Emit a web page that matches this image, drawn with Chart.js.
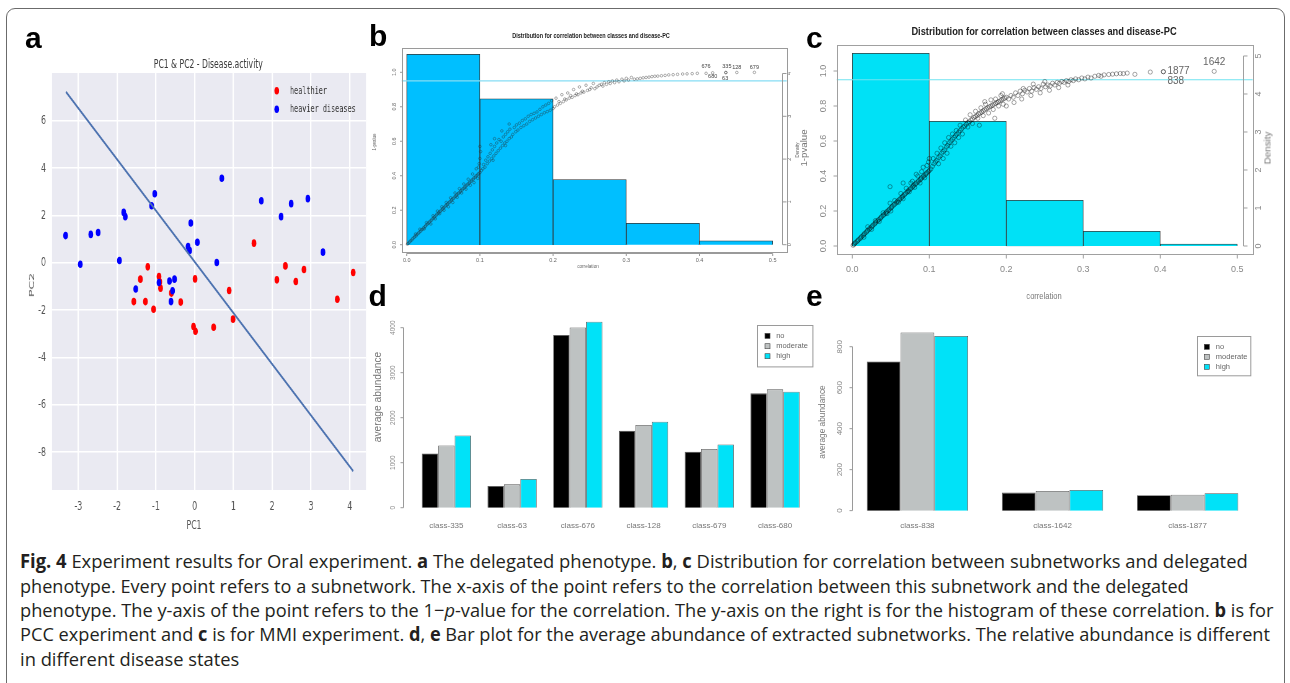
<!DOCTYPE html>
<html><head><meta charset="utf-8">
<script src="https://cdn.jsdelivr.net/npm/chart.js@4.4.1/dist/chart.umd.min.js"></script>
<style>
html,body{margin:0;padding:0;background:#fff;}
body{width:1290px;height:683px;position:relative;overflow:hidden;}
#frame{position:absolute;left:6px;top:8px;width:1279px;height:720px;border:1px solid #6b6b6b;border-radius:9px;box-sizing:border-box;}
.panel{position:absolute;transform-origin:0 0;}
canvas{display:block;}
.t{position:absolute;white-space:nowrap;line-height:1;}
.letter{position:absolute;font-family:'Liberation Sans',Arial,sans-serif;font-weight:bold;font-size:30px;line-height:1;color:#000;}
.cap{position:absolute;left:20px;white-space:nowrap;font-family:'Open Sans','Noto Sans',sans-serif;font-size:19px;line-height:24px;color:#231f20;transform-origin:0 50%;}
.cap b{font-weight:700;}
</style></head><body>
<div id="frame"></div>
<div class="panel" id="pa" style="left:0px;top:40px;transform:scaleX(0.62)"><canvas id="ca" width="597" height="500" style="width:597px;height:500px"></canvas></div>
<div class="panel" id="pb" style="left:370px;top:25px"><canvas id="cb" width="430" height="265" style="width:430px;height:265px"></canvas></div>
<div class="panel" id="pc" style="left:790px;top:25px"><canvas id="cc" width="495" height="265" style="width:495px;height:265px"></canvas></div>
<div class="panel" id="pd" style="left:370px;top:290px"><canvas id="cd" width="445" height="250" style="width:445px;height:250px"></canvas></div>
<div class="panel" id="pe" style="left:815px;top:290px"><canvas id="ce" width="470" height="250" style="width:470px;height:250px"></canvas></div>

<div class="letter" style="left:25px;top:22.5px">a</div>
<div class="letter" style="left:369px;top:21px">b</div>
<div class="letter" style="left:806px;top:22.5px">c</div>
<div class="letter" style="left:368.5px;top:281px">d</div>
<div class="letter" style="left:806px;top:281px">e</div>

<div class="cap" data-w="1228" style="top:549px"><b>Fig. 4</b> Experiment results for Oral experiment. <b>a</b> The delegated phenotype. <b>b</b>, <b>c</b> Distribution for correlation between subnetworks and delegated</div>
<div class="cap" data-w="1169" style="top:573.5px">phenotype. Every point refers to a subnetwork. The x-axis of the point refers to the correlation between this subnetwork and the delegated</div>
<div class="cap" data-w="1253" style="top:598px">phenotype. The y-axis of the point refers to the 1−<i>p</i>-value for the correlation. The y-axis on the right is for the histogram of these correlation. <b>b</b> is for</div>
<div class="cap" data-w="1250" style="top:622.3px">PCC experiment and <b>c</b> is for MMI experiment. <b>d</b>, <b>e</b> Bar plot for the average abundance of extracted subnetworks. The relative abundance is different</div>
<div class="cap" data-w="219" style="top:646.6px">in different disease states</div>

<script>
// ================= DATA =================
// ---- panel a : PC1 & PC2 scatter ----
const aSeries = ['healthier', 'heavier diseases'];
const aTicksX = [-3, -2, -1, 0, 1, 2, 3, 4];
const aTicksY = [-8, -6, -4, -2, 0, 2, 4, 6];
const aHealthier = [[1.53,0.83],[-1.21,-0.17],[2.34,-0.13],[2.82,-0.28],[4.09,-0.41],[-1.40,-0.69],[-0.92,-0.58],[-0.88,-1.07],[-0.60,-1.28],[-1.57,-1.64],[-1.27,-1.64],[-1.06,-1.96],[-0.36,-1.66],[0.01,-0.68],[0.89,-1.17],[0.99,-2.38],[-0.03,-2.69],[0.02,-2.89],[0.49,-2.72],[2.12,-0.72],[2.61,-0.79],[3.68,-1.54],[-0.90,-0.80]];
const aHeavier = [[-3.33,1.15],[-2.95,-0.06],[-2.68,1.20],[-2.49,1.28],[-1.94,0.10],[-1.83,2.13],[-1.79,1.95],[-1.11,2.41],[-1.03,2.92],[-0.10,1.68],[-0.17,0.69],[-0.13,0.52],[0.07,0.87],[0.57,0.01],[0.70,3.57],[1.72,2.62],[2.23,1.95],[2.49,2.50],[2.92,2.71],[3.31,0.45],[-1.52,-1.11],[-0.92,-0.83],[-0.65,-0.77],[-0.52,-0.69],[-0.57,-1.18],[-0.61,-1.64]];
const aLineX = [-3.32, 4.09];
const aLineY = [7.22, -8.80];

// ---- shared correlation axes (b, c) ----
const corrTicks = [0, 0.1, 0.2, 0.3, 0.4, 0.5];
const corrTickLabels = ['0.0', '0.1', '0.2', '0.3', '0.4', '0.5'];
const pTicks = [0, 0.2, 0.4, 0.6, 0.8, 1.0];
const pTickLabels = ['0.0', '0.2', '0.4', '0.6', '0.8', '1.0'];
const binMid = [0.05, 0.15, 0.25, 0.35, 0.45];

// ---- panel b (PCC) ----
const bDensity = [4.45, 3.41, 1.52, 0.50, 0.09];
const bDensTicks = [0, 1, 2, 3, 4];
const bThreshold = 0.95;
const bPoints = [[0.001,0.003],[0.002,0.008],[0.004,0.015],[0.005,0.022],[0.007,0.027],[0.008,0.035],[0.01,0.041],[0.011,0.047],[0.013,0.052],[0.014,0.06],[0.016,0.066],[0.017,0.072],[0.019,0.078],[0.02,0.086],[0.022,0.09],[0.023,0.098],[0.025,0.105],[0.026,0.11],[0.028,0.118],[0.029,0.124],[0.031,0.13],[0.032,0.137],[0.034,0.142],[0.035,0.15],[0.037,0.155],[0.038,0.162],[0.04,0.168],[0.041,0.176],[0.043,0.181],[0.044,0.188],[0.046,0.193],[0.047,0.2],[0.049,0.206],[0.05,0.213],[0.052,0.219],[0.053,0.226],[0.055,0.231],[0.056,0.238],[0.058,0.244],[0.059,0.25],[0.061,0.257],[0.062,0.263],[0.064,0.268],[0.065,0.276],[0.067,0.281],[0.068,0.288],[0.07,0.294],[0.071,0.3],[0.073,0.306],[0.074,0.313],[0.076,0.318],[0.077,0.326],[0.079,0.331],[0.08,0.338],[0.082,0.343],[0.083,0.35],[0.085,0.356],[0.086,0.362],[0.088,0.368],[0.089,0.375],[0.091,0.38],[0.092,0.388],[0.094,0.393],[0.095,0.4],[0.097,0.405],[0.098,0.412],[0.1,0.418],
[0.012,0.062],[0.018,0.09],[0.024,0.092],[0.027,0.128],[0.033,0.12],[0.036,0.168],[0.039,0.15],[0.042,0.195],[0.045,0.18],[0.048,0.22],[0.051,0.2],[0.054,0.245],[0.057,0.22],[0.06,0.272],[0.063,0.245],[0.066,0.3],[0.069,0.275],[0.072,0.325],[0.075,0.3],[0.078,0.352],[0.081,0.322],[0.084,0.38],[0.087,0.345],[0.09,0.41],[0.092,0.36],[0.095,0.44],[0.097,0.385],[0.099,0.47],[0.1,0.5],[0.101,0.54],[0.1,0.57],[0.098,0.45],
[0.102,0.43],[0.104,0.44],[0.105,0.465],[0.107,0.45],[0.108,0.49],[0.11,0.47],[0.111,0.51],[0.113,0.485],[0.114,0.53],[0.116,0.5],[0.117,0.55],[0.119,0.515],[0.12,0.57],[0.122,0.53],[0.123,0.59],[0.125,0.545],[0.126,0.61],[0.128,0.56],[0.129,0.6],[0.131,0.575],[0.132,0.625],[0.134,0.59],[0.135,0.64],[0.137,0.6],[0.138,0.655],[0.14,0.615],[0.141,0.67],[0.143,0.625],[0.145,0.64],[0.147,0.68],[0.149,0.655],[0.15,0.695],[0.152,0.665],[0.154,0.705],[0.156,0.68],[0.158,0.72],[0.16,0.69],[0.162,0.73],[0.164,0.7],[0.166,0.745],[0.168,0.715],[0.17,0.755],[0.172,0.725],[0.174,0.762],[0.176,0.735],[0.178,0.77],[0.18,0.745],[0.182,0.785],[0.184,0.755],[0.186,0.8],[0.188,0.765],[0.19,0.81],[0.192,0.772],[0.194,0.82],[0.196,0.78],[0.198,0.835],[0.2,0.79],[0.12,0.615],[0.13,0.66],[0.115,0.58],[0.14,0.7],[0.118,0.49],[0.135,0.575],
[0.202,0.8],[0.204,0.85],[0.206,0.81],[0.208,0.83],[0.21,0.82],[0.212,0.87],[0.214,0.83],[0.216,0.845],[0.218,0.84],[0.22,0.88],[0.222,0.85],[0.224,0.865],[0.226,0.855],[0.228,0.9],[0.23,0.865],[0.232,0.875],[0.234,0.87],[0.236,0.915],[0.238,0.88],[0.24,0.89],[0.242,0.885],[0.245,0.925],[0.247,0.895],[0.25,0.9],[0.252,0.91],[0.255,0.935],[0.257,0.905],[0.26,0.915],[0.263,0.925],[0.266,0.93],[0.268,0.92],[0.27,0.94],[0.273,0.93],[0.276,0.945],[0.278,0.935],[0.281,0.95],[0.284,0.94],[0.287,0.955],[0.29,0.945],[0.294,0.96],[0.297,0.95],[0.3,0.965],
[0.303,0.955],[0.307,0.97],[0.311,0.96],[0.315,0.962],[0.319,0.965],[0.323,0.968],[0.327,0.97],[0.331,0.972],[0.335,0.975],[0.339,0.977],[0.343,0.978],[0.348,0.98],[0.353,0.982],[0.358,0.985],[0.364,0.986],[0.37,0.988],[0.377,0.99],[0.383,0.991],[0.39,0.992],[0.397,0.994]];
const bLabeled = [{name:'676',x:0.409,y:0.994},{name:'680',x:0.418,y:0.997},{name:'335',x:0.436,y:0.999},{name:'63',x:0.436,y:0.998},{name:'128',x:0.451,y:0.999},{name:'679',x:0.475,y:0.9995}];

// ---- panel c (MMI) ----
const cDensity = [5.07, 3.28, 1.20, 0.386, 0.05];
const cDensTicks = [0, 1, 2, 3, 4, 5];
const cThreshold = 0.95;
const cPoints = [[0.001,0.004],[0.002,0.009],[0.003,0.015],[0.004,0.019],[0.006,0.025],[0.007,0.031],[0.008,0.036],[0.01,0.042],[0.011,0.048],[0.012,0.054],[0.014,0.06],[0.015,0.066],[0.016,0.072],[0.018,0.078],[0.019,0.084],[0.02,0.09],[0.022,0.096],[0.023,0.102],[0.025,0.108],[0.026,0.114],[0.027,0.12],[0.029,0.126],[0.03,0.132],[0.031,0.138],[0.033,0.144],[0.034,0.15],[0.036,0.156],[0.037,0.162],[0.038,0.168],[0.04,0.174],[0.041,0.18],[0.043,0.186],[0.044,0.192],[0.045,0.198],[0.047,0.204],[0.048,0.21],[0.05,0.216],[0.051,0.222],[0.052,0.228],[0.054,0.234],[0.055,0.24],[0.057,0.246],[0.058,0.252],[0.059,0.258],[0.061,0.264],[0.062,0.27],[0.064,0.276],[0.065,0.282],[0.066,0.288],[0.068,0.294],[0.069,0.3],[0.071,0.306],[0.072,0.312],[0.073,0.318],[0.075,0.324],[0.076,0.33],[0.078,0.336],[0.079,0.342],[0.08,0.348],[0.082,0.354],[0.083,0.36],[0.085,0.366],[0.086,0.372],[0.088,0.378],[0.089,0.384],[0.09,0.39],[0.092,0.396],[0.093,0.402],[0.095,0.408],[0.096,0.414],[0.097,0.42],[0.099,0.426],[0.1,0.432],
[0.015,0.05],[0.02,0.11],[0.025,0.095],[0.03,0.145],[0.035,0.14],[0.04,0.19],[0.045,0.185],[0.049,0.245],[0.05,0.2],[0.055,0.26],[0.06,0.25],[0.063,0.3],[0.066,0.27],[0.07,0.33],[0.074,0.31],[0.078,0.37],[0.081,0.335],[0.085,0.4],[0.088,0.36],[0.049,0.339],[0.066,0.36],[0.09,0.425],[0.094,0.39],[0.097,0.46],[0.099,0.48],[0.1,0.5],[0.092,0.45],[0.083,0.41],[0.076,0.36],
[0.102,0.44],[0.104,0.455],[0.106,0.47],[0.108,0.48],[0.11,0.49],[0.112,0.505],[0.114,0.515],[0.116,0.53],[0.118,0.54],[0.12,0.55],[0.122,0.565],[0.124,0.575],[0.126,0.59],[0.128,0.6],[0.13,0.61],[0.132,0.62],[0.134,0.63],[0.136,0.64],[0.138,0.65],[0.14,0.66],[0.142,0.67],[0.144,0.68],[0.146,0.685],[0.148,0.695],[0.15,0.705],[0.152,0.71],[0.154,0.72],[0.156,0.725],[0.158,0.735],[0.16,0.74],[0.162,0.745],[0.164,0.755],[0.166,0.76],[0.168,0.765],[0.17,0.772],[0.172,0.778],[0.174,0.784],[0.176,0.79],[0.178,0.795],[0.18,0.8],[0.182,0.805],[0.184,0.81],[0.186,0.815],[0.188,0.82],[0.19,0.825],[0.192,0.83],[0.194,0.835],[0.196,0.84],[0.198,0.845],[0.2,0.85],
[0.105,0.5],[0.11,0.53],[0.112,0.47],[0.115,0.56],[0.118,0.5],[0.12,0.59],[0.123,0.53],[0.125,0.62],[0.128,0.57],[0.13,0.64],[0.133,0.59],[0.135,0.66],[0.138,0.62],[0.14,0.69],[0.143,0.64],[0.147,0.72],[0.15,0.68],[0.153,0.75],[0.156,0.7],[0.16,0.77],[0.163,0.73],[0.167,0.79],[0.17,0.745],[0.173,0.81],[0.177,0.76],[0.18,0.835],[0.183,0.78],[0.186,0.84],[0.19,0.8],[0.193,0.86],[0.196,0.81],[0.172,0.825],[0.165,0.69],[0.185,0.73],[0.2,0.8],[0.195,0.87],
[0.203,0.84],[0.206,0.86],[0.209,0.85],[0.212,0.875],[0.215,0.86],[0.218,0.885],[0.221,0.87],[0.224,0.89],[0.227,0.88],[0.23,0.9],[0.233,0.885],[0.236,0.905],[0.239,0.895],[0.242,0.91],[0.245,0.9],[0.248,0.925],[0.251,0.91],[0.254,0.92],[0.257,0.915],[0.26,0.93],[0.263,0.92],[0.266,0.935],[0.269,0.93],[0.272,0.94],[0.275,0.935],[0.278,0.945],[0.281,0.94],[0.284,0.95],[0.287,0.945],[0.29,0.955],[0.294,0.95],[0.298,0.96],[0.21,0.82],[0.22,0.84],[0.232,0.86],[0.244,0.875],[0.256,0.89],[0.268,0.905],[0.25,0.94],[0.235,0.925],[0.222,0.9],[0.28,0.92],
[0.302,0.955],[0.306,0.965],[0.31,0.96],[0.315,0.97],[0.32,0.975],[0.323,0.97],[0.327,0.978],[0.333,0.98],[0.338,0.982],[0.343,0.984],[0.348,0.986],[0.352,0.985],[0.357,0.988],[0.367,0.981],[0.387,0.994]];
const cLabeled = [{name:'1642',x:0.470,y:0.998},{name:'1877',x:0.404,y:0.996},{name:'838',x:0.404,y:0.996}];

// ---- panel d, e : average abundance bars ----
const barSeries = ['no', 'moderate', 'high'];
const dCats = ['class-335', 'class-63', 'class-676', 'class-128', 'class-679', 'class-680'];
const dNo = [1207, 481, 3837, 1711, 1244, 2541];
const dModerate = [1385, 519, 4007, 1837, 1304, 2630];
const dHigh = [1607, 637, 4133, 1911, 1407, 2578];
const dTicks = [0, 1000, 2000, 3000, 4000];
const dTickLabels = ['0', '1000', '2000', '3000', '4000'];
const eCats = ['class-838', 'class-1642', 'class-1877'];
const eNo = [728, 88, 75];
const eModerate = [870, 96, 78];
const eHigh = [852, 101, 85];
const eTicks = [0, 200, 400, 600, 800];
const eTickLabels = ['0', '200', '400', '600', '800'];

// ================= PLUGINS =================
const bgFill = { id:'bgFill', beforeDraw(ch, a, o){ if(!o.color) return; const c=ch.ctx, r=ch.chartArea; c.save(); c.fillStyle=o.color; c.fillRect(r.left, r.top, r.right-r.left, r.bottom-r.top); c.restore(); } };
const boxFrame = { id:'boxFrame', afterDraw(ch, a, o){ if(!o.color) return; const c=ch.ctx, r=ch.chartArea; c.save(); c.strokeStyle=o.color; c.lineWidth=1; c.strokeRect(Math.round(r.left)+0.5, Math.round(r.top)+0.5, Math.round(r.right-r.left), Math.round(r.bottom-r.top)); c.restore(); } };
const rAxes = { id:'rAxes', afterDraw(ch, a, o){
  if(!o.axes) return; const c=ch.ctx, r=ch.chartArea; c.save(); c.strokeStyle=o.color||'#999'; c.lineWidth=1;
  o.axes.forEach(ax=>{ const sc=ch.scales[ax.id]; const px=sc.ticks.map(t=>sc.getPixelForValue(t.value)); c.beginPath();
    if(ax.side==='bottom'){ const y0=Math.round(r.bottom+(ax.offset||0))+0.5; c.moveTo(px[0],y0); c.lineTo(px[px.length-1],y0); px.forEach(p=>{c.moveTo(p,y0); c.lineTo(p,y0+ax.len);}); }
    else { const x0=Math.round((ax.side==='left'?r.left:r.right)+(ax.offset||0))+0.5; const d=ax.side==='left'?-ax.len:ax.len; c.moveTo(x0,px[0]); c.lineTo(x0,px[px.length-1]); px.forEach(p=>{c.moveTo(x0,p); c.lineTo(x0+d,p);}); }
    c.stroke(); });
  c.restore(); } };
const threshold = { id:'threshold', afterDatasetDraw(ch, a, o){ if(o.value===undefined || a.index!==o.after) return; const c=ch.ctx, r=ch.chartArea; const y=ch.scales.y.getPixelForValue(o.value); c.save(); c.strokeStyle=o.color; c.lineWidth=o.width; c.beginPath(); c.moveTo(r.left,y); c.lineTo(r.right,y); c.stroke(); c.restore(); } };
const pointNames = { id:'pointNames', afterDatasetsDraw(ch, a, o){ if(!o.items) return; const c=ch.ctx; c.save(); c.font=o.font; c.fillStyle=o.color; c.textBaseline='middle';
  o.items.forEach(it=>{ const st=o.offsets[it.name]; const x=ch.scales.x.getPixelForValue(it.x), y=ch.scales.y.getPixelForValue(it.y); c.textAlign=st.align||'center'; c.fillText(it.name, x+st.dx, y+st.dy); }); c.restore(); } };
const dotLegend = { id:'dotLegend', afterDatasetsDraw(ch, a, o){ if(!o.rows) return; const c=ch.ctx, r=ch.chartArea; c.save(); c.font=o.font; c.textBaseline='middle'; c.textAlign='left';
  o.order.forEach((lab,i)=>{ const ds=ch.data.datasets.find(d=>d.label===lab); const y=r.top+o.rows[i]; c.fillStyle=ds.pointBackgroundColor; c.beginPath(); c.arc(r.right-o.dot, y, o.r, 0, Math.PI*2); c.fill(); c.fillStyle=o.color; c.fillText(ds.label, r.right-o.txt, y); }); c.restore(); } };
const boxLegend = { id:'boxLegend', afterDraw(ch, a, o){ if(!o.rows) return; const c=ch.ctx, r=ch.chartArea; const x0=Math.round(r.right-o.fromRight)+0.5, y0=Math.round(r.top+o.fromTop)+0.5; c.save();
  c.fillStyle='#fff'; c.fillRect(x0,y0,o.w,o.h); c.strokeStyle=o.border; c.lineWidth=1; c.strokeRect(x0,y0,o.w,o.h);
  c.font=o.font; c.textBaseline='middle'; c.textAlign='left';
  ch.data.datasets.forEach((ds,i)=>{ const y=y0+o.rows[i]; c.fillStyle=ds.backgroundColor; c.fillRect(x0+o.sqX-o.sq/2, y-o.sq/2, o.sq, o.sq); c.strokeStyle='#444'; c.lineWidth=0.6; c.strokeRect(x0+o.sqX-o.sq/2, y-o.sq/2, o.sq, o.sq); c.fillStyle=o.color; c.fillText(ds.label, x0+o.txtX, y); });
  c.restore(); } };
Chart.register(bgFill, boxFrame, rAxes, threshold, pointNames, dotLegend, boxLegend);
Chart.defaults.animation = false;

const common = { responsive:false, animation:false, devicePixelRatio:1, events:[] };
const noPlug = { legend:{display:false}, tooltip:{enabled:false}, title:{display:false} };
const fixTicks = arr => (s => { s.ticks = arr.map(v => ({value:v})); });
const noGrid = { display:false, drawTicks:false, drawOnChartArea:false };
const LS = "'Liberation Sans', Arial, sans-serif";
const DJ = "'DejaVu Sans', sans-serif";

// ================= PANEL A =================
new Chart(document.getElementById('ca'), {
  type:'scatter',
  data:{ datasets:[
    { type:'line', label:'fit', data:aLineX.map((x,i)=>({x, y:aLineY[i]})), borderColor:'#4C72B0', borderWidth:2.4, pointRadius:0, fill:false, order:0 },
    { label:aSeries[1], data:aHeavier.map(([x,y])=>({x,y})), pointRadius:3.8, pointBorderWidth:0, pointBackgroundColor:'#0000FF', order:1 },
    { label:aSeries[0], data:aHealthier.map(([x,y])=>({x,y})), pointRadius:3.8, pointBorderWidth:0, pointBackgroundColor:'#FF0000', order:2 }
  ]},
  options:Object.assign({}, common, {
    layout:{ autoPadding:false, padding:{top:33, right:6.7, bottom:0, left:0} },
    scales:{
      x:{ type:'linear', min:-3.68, max:4.42, afterBuildTicks:fixTicks(aTicksX), afterFit:s=>{s.height=50;},
          grid:{color:'#ffffff', lineWidth:2.3, drawTicks:false}, border:{display:false},
          ticks:{ font:{family:DJ, size:13}, color:'#555', padding:8.9 } },
      y:{ type:'linear', min:-9.6, max:8.02, afterBuildTicks:fixTicks(aTicksY), afterFit:s=>{s.width=83.87;},
          grid:{color:'#ffffff', lineWidth:1.5, drawTicks:false}, border:{display:false},
          ticks:{ font:{family:DJ, size:13}, color:'#555', padding:9.5 } }
    },
    plugins:Object.assign({}, noPlug, {
      bgFill:{ color:'#EAEAF2' },
      dotLegend:{ order:aSeries, rows:[17.7, 36.3], dot:144, txt:122.6, r:3.8, font:"11px 'DejaVu Sans Mono', monospace", color:'#333' }
    })
  })
});

// ================= PANEL B =================
new Chart(document.getElementById('cb'), {
  type:'bar',
  data:{ datasets:[
    { type:'bar', data:binMid.map((x,i)=>({x, y:bDensity[i]})), yAxisID:'y2', backgroundColor:'#00BFFF', borderColor:'#333', borderWidth:0.8, barPercentage:1, categoryPercentage:1, order:3 },
    { type:'scatter', data:bPoints.concat(bLabeled.map(p=>[p.x,p.y])).map(([x,y])=>({x,y})), yAxisID:'y', pointRadius:1.3, pointBorderWidth:0.6, pointBorderColor:'rgba(40,40,40,0.6)', pointBackgroundColor:'rgba(0,0,0,0)', order:1 }
  ]},
  options:Object.assign({}, common, {
    layout:{ autoPadding:false, padding:{top:23.3, right:0, bottom:0, left:0} },
    scales:{
      x:{ type:'linear', offset:false, min:-0.00683, max:0.51913, afterBuildTicks:fixTicks(corrTicks), afterFit:s=>{s.height=37.3;},
          grid:noGrid, border:{display:false}, ticks:{ callback:(v,i)=>corrTickLabels[i], font:{family:LS, size:5.5}, color:'#666', padding:4 } },
      y:{ type:'linear', position:'left', min:-0.0464, max:1.1392, afterBuildTicks:fixTicks(pTicks), afterFit:s=>{s.width=31.7;},
          grid:noGrid, border:{display:false}, ticks:{ callback:(v,i)=>pTickLabels[i], minRotation:90, maxRotation:90, crossAlign:'center', font:{family:LS, size:5.5}, color:'#666', padding:2.9 } },
      y2:{ type:'linear', position:'right', min:-0.187, max:4.589, afterBuildTicks:fixTicks(bDensTicks), afterFit:s=>{s.width=13.3;},
          grid:noGrid, border:{display:false}, ticks:{ callback:(v,i)=>String(bDensTicks[i]), minRotation:90, maxRotation:90, crossAlign:'center', font:{family:LS, size:5.5}, color:'#666', padding:1 } }
    },
    plugins:Object.assign({}, noPlug, {
      boxFrame:{ color:'#9a9a9a' },
      rAxes:{ color:'#9a9a9a', axes:[{id:'x', side:'bottom', len:2.5}, {id:'y', side:'left', len:2.5}, {id:'y2', side:'right', offset:-4.7, len:4}] },
      threshold:{ value:bThreshold, after:0, color:'#86DDF4', width:1.2 },
      pointNames:{ items:bLabeled, font:"5.5px 'Liberation Sans', Arial", color:'#444',
        offsets:{ '676':{dx:0,dy:-7}, '680':{dx:0,dy:4}, '335':{dx:1,dy:-6.3}, '63':{dx:-0.7,dy:5.4}, '128':{dx:0,dy:-5}, '679':{dx:0,dy:-5} } }
    })
  })
});

// ================= PANEL C =================
new Chart(document.getElementById('cc'), {
  type:'bar',
  data:{ datasets:[
    { type:'bar', data:binMid.map((x,i)=>({x, y:cDensity[i]})), yAxisID:'y2', backgroundColor:'#00E1F6', borderColor:'#3a3a3a', borderWidth:0.8, barPercentage:1, categoryPercentage:1, order:3 },
    { type:'scatter', data:cPoints.concat(cLabeled.map(p=>[p.x,p.y])).map(([x,y])=>({x,y})), yAxisID:'y', pointRadius:2.1, pointBorderWidth:0.5, pointBorderColor:'rgba(0,0,0,0.7)', pointBackgroundColor:'rgba(0,0,0,0)', order:1 }
  ]},
  options:Object.assign({}, common, {
    layout:{ autoPadding:false, padding:{top:20, right:0, bottom:0, left:0} },
    scales:{
      x:{ type:'linear', offset:false, min:-0.0203, max:0.52, afterBuildTicks:fixTicks(corrTicks), afterFit:s=>{s.height=36;},
          grid:noGrid, border:{display:false}, ticks:{ callback:(v,i)=>corrTickLabels[i], font:{family:LS, size:9}, color:'#888', padding:10.6 } },
      y:{ type:'linear', position:'left', min:-0.0457, max:1.1486, afterBuildTicks:fixTicks(pTicks), afterFit:s=>{s.width=46.7;},
          grid:noGrid, border:{display:false}, ticks:{ callback:(v,i)=>pTickLabels[i], minRotation:90, maxRotation:90, crossAlign:'center', font:{family:LS, size:9}, color:'#888', padding:7.1 } },
      y2:{ type:'linear', position:'right', min:-0.2105, max:5.289, afterBuildTicks:fixTicks(cDensTicks), afterFit:s=>{s.width=32.3;},
          grid:noGrid, border:{display:false}, ticks:{ callback:(v,i)=>String(cDensTicks[i]), minRotation:90, maxRotation:90, crossAlign:'center', font:{family:LS, size:9}, color:'#888', padding:3.1 } }
    },
    plugins:Object.assign({}, noPlug, {
      boxFrame:{ color:'#a0a0a0' },
      rAxes:{ color:'#a0a0a0', axes:[{id:'x', side:'bottom', len:4}, {id:'y', side:'left', len:4}, {id:'y2', side:'right', offset:-9.4, len:4}] },
      threshold:{ value:cThreshold, after:0, color:'#6FE3F0', width:1 },
      pointNames:{ items:cLabeled, font:"10px 'Liberation Sans', Arial", color:'#666',
        offsets:{ '1642':{dx:0,dy:-9}, '1877':{dx:4,dy:0,align:'left'}, '838':{dx:4,dy:9.3,align:'left'} } }
    })
  })
});

// ================= PANEL D, E =================
const barColors = ['#000000', '#BEC2C2', '#00E2F8'];
function barChart(id, cats, series, ticks, tickLabels, geo) {
  new Chart(document.getElementById(id), {
    type:'bar',
    data:{ labels:cats, datasets:series.map((d,i)=>({ label:barSeries[i], data:d, backgroundColor:barColors[i], borderColor:'#555', borderWidth:0.8, barPercentage:1, categoryPercentage:0.75 })) },
    options:Object.assign({}, common, {
      layout:{ autoPadding:false, padding:{top:geo.top, right:geo.right, bottom:0, left:0} },
      scales:{
        x:{ afterFit:s=>{s.height=geo.xh;}, grid:noGrid, border:{display:false}, ticks:{ font:{family:LS, size:8}, color:'#777', padding:geo.xpad, maxRotation:0 } },
        y:{ type:'linear', min:geo.min, max:geo.max, afterBuildTicks:fixTicks(ticks), afterFit:s=>{s.width=geo.yw;},
            grid:noGrid, border:{display:false}, ticks:{ callback:(v,i)=>tickLabels[i], minRotation:90, maxRotation:90, crossAlign:'center', font:{family:LS, size:geo.yfs}, color:'#888', padding:geo.ypad } }
      },
      plugins:Object.assign({}, noPlug, {
        rAxes:{ color:'#9a9a9a', axes:[{id:'y', side:'left', offset:geo.axOff, len:3}] },
        boxLegend:geo.legend
      })
    })
  });
}
barChart('cd', dCats, [dNo, dModerate, dHigh], dTicks, dTickLabels,
  { top:25, right:7.1, xh:25, xpad:6.2, min:-162, max:4282, yw:43.5, yfs:6.5, ypad:13, axOff:-10.2,
    legend:{ fromRight:50.6, fromTop:10.3, w:55.4, h:41.4, rows:[10.4, 20.7, 30.7], sq:5, sqX:10, txtX:18.7, font:"7.5px 'Liberation Sans', Arial", color:'#666', border:'#9a9a9a' } });
barChart('ce', eCats, [eNo, eModerate, eHigh], eTicks, eTickLabels,
  { top:35, right:29.8, xh:22.2, xpad:3.4, min:-35, max:906, yw:34.85, yfs:8, ypad:3.2, axOff:1.85,
    legend:{ fromRight:58.5, fromTop:10.7, w:53.3, h:39.3, rows:[10.3, 20.3, 30.3], sq:5, sqX:9.3, txtX:18.3, font:"7.5px 'Liberation Sans', Arial", color:'#666', border:'#9a9a9a' } });

// ================= TEXT =================
const texts = [];
function addText(parent, html, x, y, o) {
  const s = document.createElement('span'); s.className = 't'; s.innerHTML = html;
  s.style.font = o.font; s.style.color = o.color || '#555'; s.style.left = x + 'px'; s.style.top = y + 'px';
  parent.appendChild(s); texts.push({s, o});
}
const pa = document.getElementById('pa'), body = document.body;
addText(pa, 'PC1 &amp; PC2 - Disease.activity', 336.3, 23.3, {font:"12.5px 'DejaVu Sans', sans-serif", color:'#3a3a3a', w:176});
addText(pa, 'PC1', 312.9, 484, {font:"12.5px 'DejaVu Sans', sans-serif", color:'#555'});
addText(pa, 'PC2', 51.1, 245, {font:"12.5px 'DejaVu Sans', sans-serif", color:'#555', rot:true});
addText(body, 'Distribution for correlation between classes and disease-PC', 591, 35, {font:"bold 6.5px 'Liberation Sans', Arial", color:'#222', w:158});
addText(body, '1-pvalue', 374, 141.7, {font:"4.5px 'Liberation Sans', Arial", color:'#666', rot:true, w:16.7});
addText(body, 'correlation', 588.3, 266, {font:"5px 'Liberation Sans', Arial", color:'#666', w:21.3});
addText(body, 'Density', 796.7, 150, {font:"4.5px 'Liberation Sans', Arial", color:'#666', rot:true, w:15});
addText(body, 'Distribution for correlation between classes and disease-PC', 1044, 31, {font:"bold 11px 'Liberation Sans', Arial", color:'#222', w:265});
addText(body, '1-pvalue', 803.3, 148.3, {font:"9.5px 'Liberation Sans', Arial", color:'#777', rot:true, w:36.7});
addText(body, 'correlation', 1044, 295, {font:"9.5px 'Liberation Sans', Arial", color:'#777', w:35});
addText(body, 'Density', 1267.3, 148, {font:"9.5px 'Liberation Sans', Arial", color:'#777', rot:true, w:33});
addText(body, 'average abundance', 377, 396.7, {font:"10px 'Liberation Sans', Arial", color:'#777', rot:true, w:90});
addText(body, 'average abundance', 821.7, 421.7, {font:"8.3px 'Liberation Sans', Arial", color:'#777', rot:true, w:73});

function fitAll() {
  texts.forEach(({s,o}) => {
    s.style.transform = 'none';
    const sx = o.w ? o.w / s.offsetWidth : 1;
    s.style.transform = `translate(-50%,-50%)${o.rot ? ' rotate(-90deg)' : ''} scaleX(${sx})`;
  });
  document.querySelectorAll('.cap').forEach(d => {
    d.style.transform = 'none';
    d.style.transform = `scaleX(${(+d.dataset.w) / d.offsetWidth})`;
  });
}
fitAll();
if (document.fonts && document.fonts.ready) document.fonts.ready.then(fitAll);
</script>
</body></html>
